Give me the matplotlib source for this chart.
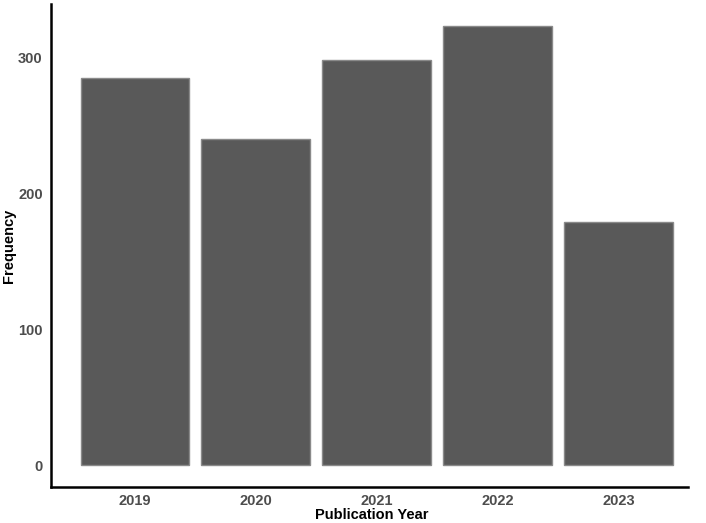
import matplotlib
matplotlib.use("Agg")
import matplotlib.pyplot as plt

years = ["2019", "2020", "2021", "2022", "2023"]
counts = [285, 240, 298, 323, 179]
y_ticks = [0, 100, 200, 300]

plt.rcParams['font.family'] = ['Liberation Sans', 'DejaVu Sans']

fig = plt.figure(figsize=(7.06, 5.23), dpi=100)
ax = fig.add_axes([51/706, 36/523, 637/706, 483/523])

x = list(range(1, len(years) + 1))
ax.bar(x, counts, width=0.9, color="#595959", edgecolor="#8a8a8a", linewidth=1.0)

ax.set_xlim(0.305, 5.575)
ymax = max(counts)
ax.set_ylim(-0.05 * ymax, 1.05 * ymax)
ax.set_xticks(x)
ax.set_xticklabels(years)
ax.set_yticks(y_ticks)
ax.tick_params(length=0, labelsize=10.5, labelcolor="#4D4D4D")
ax.tick_params(axis='y', pad=6)
ax.tick_params(axis='x', pad=5)
for lab in ax.get_xticklabels() + ax.get_yticklabels():
    lab.set_fontweight("bold")

for s in ["top", "right"]:
    ax.spines[s].set_visible(False)
for s in ["left", "bottom"]:
    ax.spines[s].set_linewidth(1.8)
    ax.spines[s].set_color("black")

ax.set_xlabel("Publication Year", fontsize=10.5, fontweight="bold")
ax.set_ylabel("Frequency", fontsize=10.5, fontweight="bold")
ax.xaxis.set_label_coords(0.504, -0.0435)
ax.yaxis.set_label_coords(-0.055, 0.50)

fig.savefig("out.png", dpi=100)
